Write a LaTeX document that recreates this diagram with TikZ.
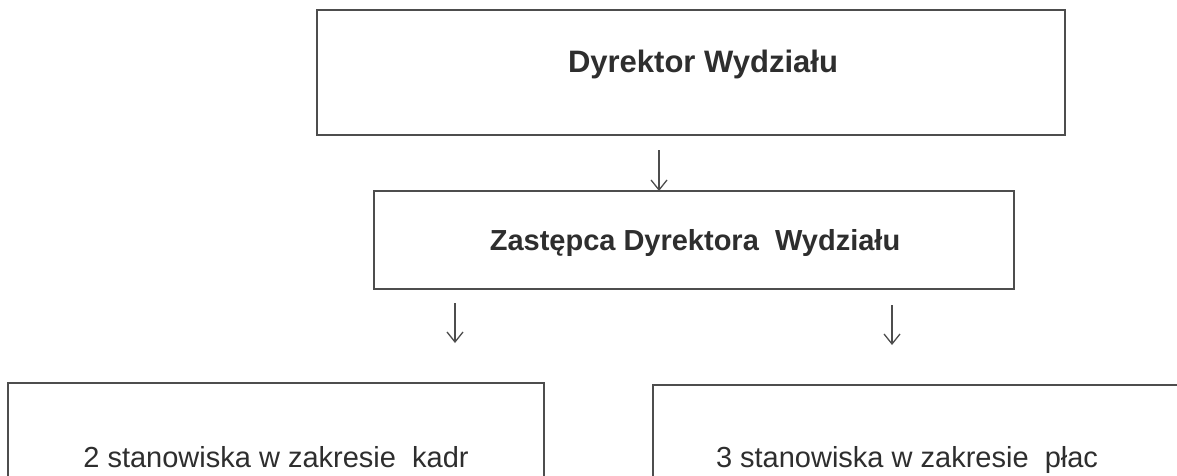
\documentclass[tikz,border=0pt]{standalone}
\usepackage{xcolor}
\usepackage{fontspec}
\setmainfont{Liberation Sans}
\usepackage{tikz}
\usetikzlibrary{arrows.meta}

\definecolor{ink}{HTML}{2E2E2E}
\definecolor{frame}{HTML}{4D4D4D}

\tikzset{
    orgbox/.style={draw=frame, line width=1.6pt, inner sep=0pt, outer sep=0pt},
    orgtext/.style={text=ink, anchor=base, inner sep=0pt, font=\fontsize{29}{34}\selectfont},
    downarr/.style={draw=frame, line width=1.3pt, -{Straight Barb[length=10pt,width=16pt,line width=1.3pt]}}
}

\begin{document}
\begin{tikzpicture}[x=1pt, y=-1pt]
    \useasboundingbox (0,0) rectangle (1177,475);
    \fill[white] (0,0) rectangle (1177,475);
    \clip (0,0) rectangle (1177,475);

    \node[orgbox, minimum width=748pt, minimum height=125pt] (dyr) at (691,72.5) {};
    \node[orgbox, minimum width=640pt, minimum height=98pt] (zast) at (694,240) {};
    \node[orgbox, minimum width=536pt, minimum height=180pt] (kadr) at (276,473) {};
    \node[orgbox, minimum width=540pt, minimum height=180pt] (plac) at (923,475) {};

    \node[orgtext, font=\fontsize{31}{37}\selectfont\bfseries] (dyrtxt) at (703,72) {Dyrektor Wydziału};
    \node[orgtext, font=\fontsize{29}{34}\selectfont\bfseries] (zasttxt) at (695,250) {Zastępca Dyrektora\ \ Wydziału};
    \node[orgtext] (kadrtxt) at (276,467) {2 stanowiska w zakresie\ \ kadr};
    \node[orgtext] (plactxt) at (907,467) {3 stanowiska w zakresie\ \ płac};

    \coordinate (a1) at (659,150);
    \coordinate (a2) at (455,303);
    \coordinate (a2e) at (455,343);
    \coordinate (a3) at (892,305);
    \coordinate (a3e) at (892,345);

    \draw[downarr] (a1) -- (a1 |- zast.north);
    \draw[downarr] (a2) -- (a2e);
    \draw[downarr] (a3) -- (a3e);
\end{tikzpicture}
\end{document}
